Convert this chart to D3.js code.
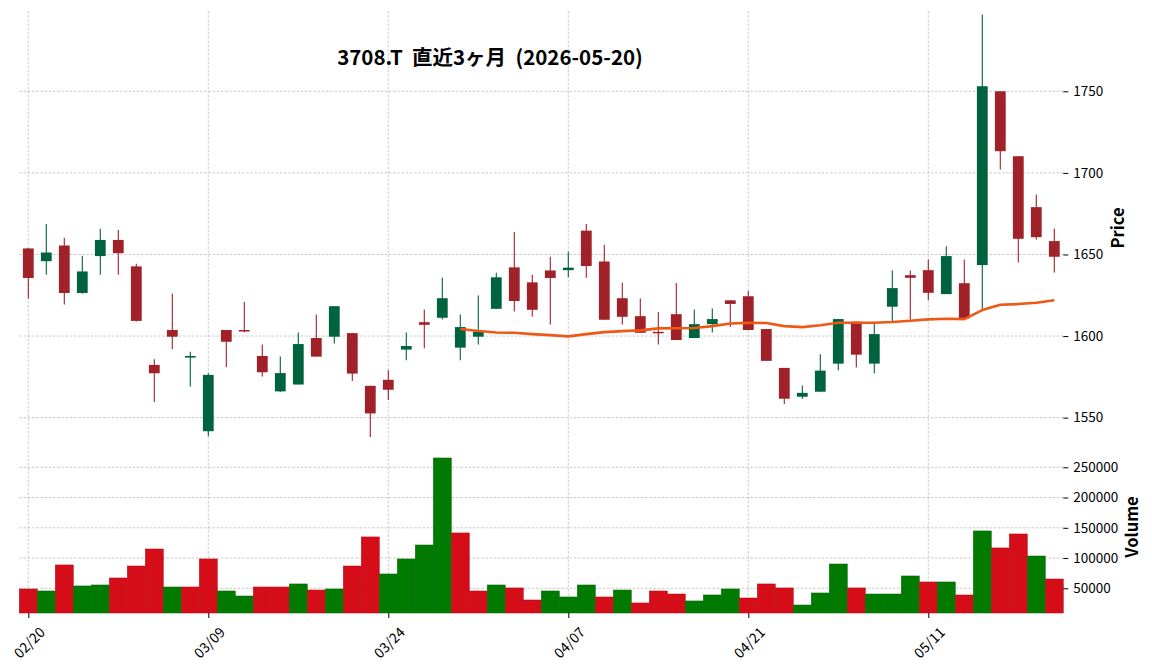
<!DOCTYPE html>
<meta charset="utf-8">
<head>
    <style>
        body { margin: 0; background: #fff; }
        svg text { font-family: "Noto Sans CJK JP", "Noto Sans", sans-serif; }
    </style>
</head>
<body>
    <div id="chart"></div>

    <script src="https://d3js.org/d3.v7.min.js"></script>
    <script>
        // trading days (index = position on x)
        let dates = ['02/20','02/24','02/25','02/26','02/27','03/02','03/03','03/04','03/05','03/06',
                     '03/09','03/10','03/11','03/12','03/13','03/16','03/17','03/18','03/19','03/23',
                     '03/24','03/25','03/26','03/27','03/30','03/31','04/01','04/02','04/03','04/06',
                     '04/07','04/08','04/09','04/10','04/13','04/14','04/15','04/16','04/17','04/20',
                     '04/21','04/22','04/23','04/24','04/27','04/28','04/30','05/01','05/07','05/08',
                     '05/11','05/12','05/13','05/14','05/15','05/18','05/19','05/20'];
        let opens  = [1653.7,1645.9,1655.5,1626.4,1649.0,1658.9,1642.7,1582.3,1603.7,1586.8,
                      1541.7,1603.7,1603.7,1587.8,1566.1,1570.3,1598.8,1599.6,1601.8,1569.5,
                      1573.2,1591.7,1608.5,1611.2,1592.9,1599.6,1616.7,1642.1,1632.9,1640.2,
                      1640.4,1664.6,1645.7,1623.2,1612.2,1602.6,1613.4,1598.8,1607.3,1621.9,
                      1624.4,1604.3,1580.5,1562.8,1565.9,1583.1,1608.8,1583.1,1618.0,1637.3,
                      1640.4,1625.7,1632.4,1643.5,1750.0,1710.2,1679.0,1658.2];
        let highs  = [1654.0,1668.7,1660.2,1649.2,1665.7,1665.0,1644.3,1585.8,1626.0,1590.4,
                      1577.2,1603.7,1620.9,1594.9,1587.4,1602.2,1613.2,1618.3,1601.8,1569.5,
                      1579.1,1602.2,1616.3,1635.8,1613.2,1624.8,1638.8,1663.8,1637.6,1648.6,
                      1651.6,1668.7,1655.9,1632.7,1623.0,1614.8,1632.5,1616.3,1616.9,1621.9,
                      1627.6,1604.3,1580.5,1569.7,1588.8,1610.4,1608.8,1608.8,1640.2,1640.2,
                      1646.9,1655.1,1646.9,1797.0,1750.0,1710.2,1686.7,1665.9];
        let lows   = [1623.0,1637.6,1619.3,1626.0,1637.6,1637.6,1609.0,1559.6,1591.9,1569.1,
                      1538.6,1580.9,1602.4,1575.2,1565.7,1570.3,1587.4,1595.5,1572.4,1538.2,
                      1560.8,1585.2,1592.5,1610.2,1585.2,1594.9,1616.7,1615.0,1612.0,1607.1,
                      1636.0,1635.8,1610.0,1607.1,1602.0,1594.9,1597.6,1598.8,1602.2,1605.5,
                      1603.7,1584.8,1558.3,1561.4,1565.9,1579.0,1580.8,1577.1,1608.2,1610.2,
                      1622.0,1625.7,1610.8,1615.9,1702.0,1645.1,1659.2,1639.0];
        let closes = [1635.6,1651.2,1626.4,1639.6,1658.9,1650.8,1609.3,1577.2,1599.6,1587.8,
                      1576.2,1596.5,1603.1,1577.8,1577.3,1595.1,1587.4,1618.3,1577.0,1552.6,
                      1567.1,1593.9,1606.9,1623.2,1605.5,1602.6,1636.0,1621.5,1616.1,1635.6,
                      1641.9,1642.9,1610.0,1611.8,1602.0,1601.8,1597.6,1607.3,1610.4,1619.7,
                      1603.7,1584.8,1561.6,1565.2,1578.8,1610.4,1588.6,1601.2,1629.4,1635.7,
                      1626.5,1649.0,1610.8,1753.1,1713.3,1659.6,1660.6,1648.6];
        let volumes = [48900,45600,88600,53900,55500,67100,86900,115000,52200,52200,
                       98500,45600,37300,52200,52200,57200,47200,48900,86900,134900,
                       73700,98500,121600,265400,141500,45600,55500,50600,30700,45600,
                       35700,55500,35700,47200,25800,45600,40600,29100,39000,48900,
                       34000,57200,50600,22400,42300,90200,50600,40600,40600,70400,
                       60500,60500,39000,144800,116700,139800,103400,65400];
        // 25-day moving average as drawn (starts at the 25th day)
        let ma25 = [null,null,null,null,null,null,null,null,null,null,
                    null,null,null,null,null,null,null,null,null,null,
                    null,null,null,null,1604.3,1603.1,1602.2,1602.0,1601.2,1600.6,
                    1599.8,1601.2,1602.4,1603.0,1603.5,1604.7,1604.8,1604.9,1606.1,1607.7,
                    1608.1,1608.0,1606.1,1605.5,1606.6,1608.2,1608.2,1608.2,1608.6,1609.4,
                    1610.2,1610.6,1610.4,1615.9,1619.2,1619.6,1620.4,1622.0];

        let xTickLabels = ['02/20','03/09','03/24','04/07','04/21','05/11'];
        let priceTicks = [1550, 1600, 1650, 1700, 1750];
        let volumeTicks = [50000, 100000, 150000, 200000, 250000];
        let title = '3708.T  直近3ヶ月  (2026-05-20)';

        // colors (charles-like)
        let candleUp = '#006340', candleDown = '#a02128';
        let volUp = '#007a00', volDown = '#d50d18';
        let maColor = '#ef5714';
        let gridColor = '#bdbdbd';

        let width = 1152, svgHeight = 670;
        let plotLeft = 19.3, plotRight = 1063.3;
        let price = {top: 11, bottom: 440.5};
        let vol = {top: 442, bottom: 613};

        let svg = d3.select('#chart').append('svg')
                    .attr('width', width)
                    .attr('height', svgHeight);

        let x = d3.scaleLinear().domain([-0.5, dates.length - 0.5]).range([plotLeft, plotRight]);
        let step = x(1) - x(0);
        let yPrice = d3.scaleLinear().domain([1536, 1799.2]).range([price.bottom, price.top]);
        let yVol = d3.scaleLinear().domain([9200, 291800]).range([vol.bottom, vol.top]);

        let tickIdx = xTickLabels.map(t => dates.indexOf(t));

        // grid
        let grid = svg.append('g').attr('stroke', gridColor).attr('stroke-width', 0.8)
                      .attr('stroke-dasharray', '2.6,1.6');
        grid.selectAll('.hp').data(priceTicks).enter().append('line')
            .attr('x1', plotLeft).attr('x2', plotRight)
            .attr('y1', d => yPrice(d)).attr('y2', d => yPrice(d));
        grid.selectAll('.hv').data(volumeTicks).enter().append('line')
            .attr('x1', plotLeft).attr('x2', plotRight)
            .attr('y1', d => yVol(d)).attr('y2', d => yVol(d));
        grid.selectAll('.vp').data(tickIdx).enter().append('line')
            .attr('x1', d => x(d)).attr('x2', d => x(d))
            .attr('y1', price.top).attr('y2', price.bottom);
        grid.selectAll('.vv').data(tickIdx).enter().append('line')
            .attr('x1', d => x(d)).attr('x2', d => x(d))
            .attr('y1', vol.top).attr('y2', vol.bottom);

        // volume bars, colored by close vs previous close
        let volColor = i => {
            if (i === 0) return closes[0] >= opens[0] ? volUp : volDown;
            return closes[i] >= closes[i - 1] ? volUp : volDown;
        };
        svg.append('g').selectAll('rect').data(volumes).enter().append('rect')
            .attr('x', (d, i) => x(i) - step / 2)
            .attr('width', step)
            .attr('y', d => yVol(d))
            .attr('height', d => vol.bottom - yVol(d))
            .attr('fill', (d, i) => volColor(i))
            .attr('stroke', (d, i) => d3.color(volColor(i)).darker(0.5))
            .attr('stroke-width', 0.5);

        // candles
        let candles = svg.append('g').selectAll('g').data(dates).enter().append('g')
            .attr('fill', (d, i) => closes[i] >= opens[i] ? candleUp : candleDown)
            .attr('stroke', (d, i) => closes[i] >= opens[i] ? candleUp : candleDown);
        candles.append('line')
            .attr('x1', (d, i) => x(i)).attr('x2', (d, i) => x(i))
            .attr('y1', (d, i) => yPrice(highs[i]))
            .attr('y2', (d, i) => yPrice(lows[i]))
            .attr('stroke-width', 1.1);
        let bodyW = step * 0.6;
        candles.append('rect')
            .attr('x', (d, i) => x(i) - bodyW / 2)
            .attr('width', bodyW)
            .attr('y', (d, i) => yPrice(Math.max(opens[i], closes[i])))
            .attr('height', (d, i) => Math.max(1.5, Math.abs(yPrice(opens[i]) - yPrice(closes[i]))))
            .attr('stroke', 'none');

        // moving average
        let maLine = d3.line()
                        .defined(d => d != null)
                        .x((d, i) => x(i))
                        .y(d => yPrice(d));
        svg.append('path')
            .attr('d', maLine(ma25))
            .attr('fill', 'none')
            .attr('stroke', maColor)
            .attr('stroke-width', 2.6)
            .attr('stroke-linejoin', 'round');

        // right axes
        let priceAxis = svg.append('g')
            .attr('transform', `translate(${plotRight}, 0)`)
            .call(d3.axisRight(yPrice).tickValues(priceTicks).tickSize(5).tickPadding(5)
                  .tickFormat(d3.format('d')));
        let volAxis = svg.append('g')
            .attr('transform', `translate(${plotRight}, 0)`)
            .call(d3.axisRight(yVol).tickValues(volumeTicks).tickSize(5).tickPadding(5)
                  .tickFormat(d3.format('d')));
        let xAxis = svg.append('g')
            .attr('transform', `translate(0, ${vol.bottom})`)
            .call(d3.axisBottom(x).tickValues(tickIdx).tickSize(5).tickFormat(i => dates[i]));

        [priceAxis, volAxis, xAxis].forEach(a => {
            a.select('.domain').remove();
            a.selectAll('text').attr('font-family', '"Noto Sans CJK JP", sans-serif')
                .attr('font-size', '13.5px').attr('fill', '#000');
            a.selectAll('line').attr('stroke', '#000').attr('stroke-width', 1);
        });
        xAxis.selectAll('text')
            .attr('y', null).attr('dy', null)
            .attr('font-size', '14px')
            .attr('text-anchor', 'middle')
            .attr('dominant-baseline', 'central')
            .attr('transform', 'translate(0, 29) rotate(-45)');

        // axis titles
        svg.append('text')
            .attr('transform', 'translate(1117, 228) rotate(-90)')
            .attr('text-anchor', 'middle').attr('dominant-baseline', 'central')
            .attr('font-size', '16.5px').attr('font-weight', 'bold')
            .text('Price');
        svg.append('text')
            .attr('transform', 'translate(1131, 527) rotate(-90)')
            .attr('text-anchor', 'middle').attr('dominant-baseline', 'central')
            .attr('font-size', '16.5px').attr('font-weight', 'bold')
            .text('Volume');

        // title
        svg.append('text')
            .attr('x', 490).attr('y', 56)
            .attr('text-anchor', 'middle').attr('dominant-baseline', 'central')
            .attr('font-size', '20.5px').attr('font-weight', 'bold')
            .style('white-space', 'pre')
            .text(title);
    </script>
</body>
